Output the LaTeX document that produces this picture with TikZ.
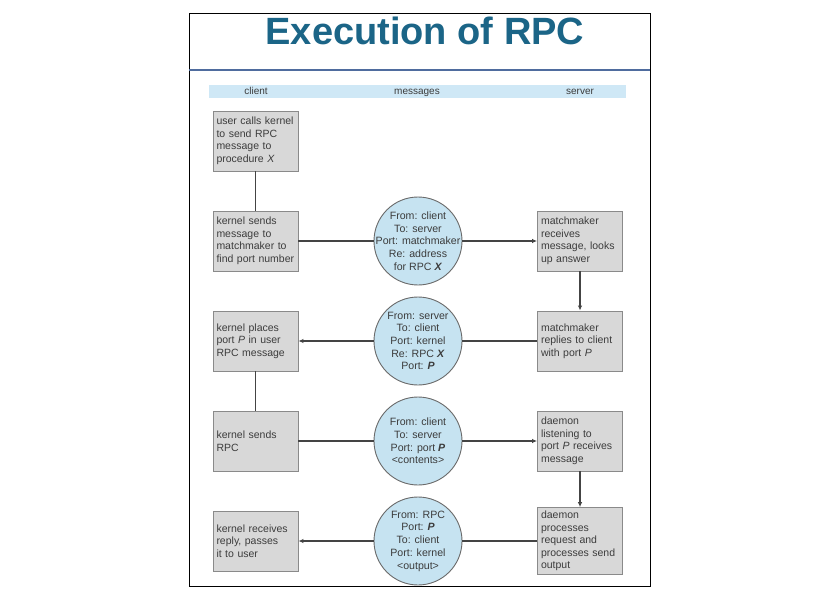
\documentclass[tikz,border=0pt]{standalone}
\usepackage{fontspec}
\setmainfont{Liberation Sans}
\usetikzlibrary{arrows.meta}
\definecolor{titleblue}{HTML}{1B6587}
\definecolor{rulecol}{HTML}{4F6C9E}
\definecolor{bandblue}{HTML}{CFE8F6}
\definecolor{boxfill}{HTML}{D8D8D8}
\definecolor{boxedge}{HTML}{8A8A8A}
\definecolor{msgfill}{HTML}{C6E3F1}
\definecolor{msgedge}{HTML}{6A6A6A}
\definecolor{txt}{HTML}{3C3C3C}
\definecolor{wire}{HTML}{444444}
\tikzset{
  stepbox/.style={draw=boxedge, fill=boxfill, line width=0.9pt, rectangle,
    minimum width=85pt, minimum height=60pt, text width=78pt, inner sep=3.5pt,
    align=left, text=txt, font=\fontsize{10.5}{12.5}\selectfont},
  % negative inner sep keeps every message disc at the same fixed size
  msg/.style={draw=msgedge, fill=msgfill, line width=0.9pt, circle,
    minimum size=88pt, inner sep=-12pt, align=center, text=txt,
    font=\fontsize{10.6}{12.7}\selectfont},
  wire/.style={draw=wire, line width=1.3pt},
  flow/.style={wire, -{Latex[length=5pt,width=4.5pt]}},
  lane/.style={text=txt, font=\fontsize{10}{12}\selectfont, anchor=base,
    inner sep=0pt}
}
\begin{document}
\begin{tikzpicture}[x=1pt,y=-1pt]
  % page and frame
  \fill[white] (0,0) rectangle (840,596);
  \useasboundingbox (0,0) rectangle (840,596);
  \draw[black, line width=0.9pt] (189,13) rectangle (650,586);

  % title and rule
  \node[text=titleblue, font=\fontsize{38}{44}\bfseries\selectfont] (title) at (425,31) {Execution of RPC};
  \draw[rulecol, line width=1.6pt] (189,70) -- (650,70);

  % lane header band
  \fill[bandblue] (209,85) rectangle (626,98);
  \node[lane] (lc) at (256,95) {client};
  \node[lane] (lm) at (417,95) {messages};
  \node[lane] (ls) at (580,95) {server};

  % client side
  \node[stepbox] (c1) at (255.5,141) {user calls kernel\\to send RPC\\message to\\procedure \textit{X}};
  \node[stepbox] (c2) at (255.5,241) {kernel sends\\message to\\matchmaker to\\find port number};
  \node[stepbox] (c3) at (255.5,341) {kernel places\\port \textit{P} in user\\RPC message};
  \node[stepbox] (c4) at (255.5,441) {kernel sends\\RPC};
  \node[stepbox] (c5) at (255.5,541) {kernel receives\\reply, passes\\it to user};

  % server side
  \node[stepbox] (s1) at (580,241) {matchmaker\\receives\\message, looks\\up answer};
  \node[stepbox] (s2) at (580,341) {matchmaker\\replies to client\\with port \textit{P}};
  \node[stepbox] (s3) at (580,441) {daemon\\listening to\\port \textit{P} receives\\message};
  \node[stepbox] (s4) at (580,541) {daemon\\processes\\request and\\processes send\\output};

  % messages
  \node[msg] (m1) at (418,241) {From: client\\To: server\\Port: matchmaker\\Re: address\\for RPC \textbf{\textit{X}}};
  \node[msg] (m2) at (418,341) {From: server\\To: client\\Port: kernel\\Re: RPC \textbf{\textit{X}}\\Port: \textbf{\textit{P}}};
  \node[msg] (m3) at (418,441) {From: client\\To: server\\Port: port \textbf{\textit{P}}\\<contents>};
  \node[msg] (m4) at (418,541) {From: RPC\\Port: \textbf{\textit{P}}\\To: client\\Port: kernel\\<output>};

  % connectors
  \draw[wire] (c1) -- (c2);
  \draw[wire] (c2) -- (m1);
  \draw[flow] (m1) -- (s1);
  \draw[flow] (s1) -- (s2);
  \draw[wire] (s2) -- (m2);
  \draw[flow] (m2) -- (c3);
  \draw[wire] (c3) -- (c4);
  \draw[wire] (c4) -- (m3);
  \draw[flow] (m3) -- (s3);
  \draw[flow] (s3) -- (s4);
  \draw[wire] (s4) -- (m4);
  \draw[flow] (m4) -- (c5);
\end{tikzpicture}
\end{document}
